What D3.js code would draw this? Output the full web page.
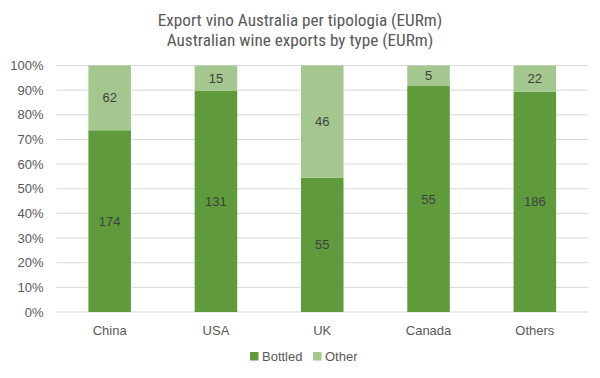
<!DOCTYPE html>
<html><head><meta charset="utf-8">
<script src="https://cdn.jsdelivr.net/npm/d3@7"></script>
<style>
body{margin:0;background:#fff;}
svg text{font-family:"Liberation Sans Narrow","Roboto Condensed","Liberation Sans",sans-serif;}
</style>
</head><body>
<svg id="c" width="600" height="378"></svg>
<script>
const categories = ["China","USA","UK","Canada","Others"];
const bottled = [174,131,55,55,186];
const other = [62,15,46,5,22];
const yTicks = [0,0.1,0.2,0.3,0.4,0.5,0.6,0.7,0.8,0.9,1];
const seriesNames = ["Bottled","Other"];
const titleLines = ["Export vino Australia per tipologia (EURm)","Australian wine exports by type (EURm)"];
const colors = ["#5f9a3d","#a4c78f"];

const svg = d3.select("#c");
const m = {l:56.5, r:12, t:65.5, b:66};
const W = 600, H = 378;
const x = d3.scaleBand().domain(categories).range([m.l, W-m.r]).paddingInner(0.6).paddingOuter(0.3);
const y = d3.scaleLinear().domain([0,1]).range([H-m.b, m.t]);

svg.selectAll(".title").data(titleLines).enter().append("text")
  .attr("x",300).attr("y",(d,i)=>25.5+i*20).attr("text-anchor","middle")
  .attr("font-size",17.2).attr("fill","#595959").text(d=>d);

svg.append("g").selectAll("line").data(yTicks).enter().append("line")
  .attr("x1",m.l).attr("x2",W-m.r).attr("y1",d=>y(d)).attr("y2",d=>y(d))
  .attr("stroke","#d9d9d9").attr("stroke-width",1);

svg.append("g").selectAll("text").data(yTicks).enter().append("text")
  .attr("x",m.l-13).attr("y",d=>y(d)+4.5).attr("text-anchor","end")
  .attr("font-size",13).attr("fill","#595959").style("font-family","'Liberation Sans',sans-serif")
  .text(d=>Math.round(d*100)+"%");

const rows = categories.map((c,i)=>({cat:c, Bottled:bottled[i]/(bottled[i]+other[i]), Other:other[i]/(bottled[i]+other[i]), vals:[bottled[i],other[i]]}));
const stack = d3.stack().keys(seriesNames)(rows);

stack.forEach((s,si)=>{
  const g = svg.append("g");
  g.selectAll("rect").data(s).enter().append("rect")
    .attr("x",d=>x(d.data.cat)).attr("width",x.bandwidth())
    .attr("y",d=>y(d[1])).attr("height",d=>y(d[0])-y(d[1]))
    .attr("fill",colors[si]);
  g.selectAll("text").data(s).enter().append("text")
    .attr("x",d=>x(d.data.cat)+x.bandwidth()/2)
    .attr("y",d=>(y(d[0])+y(d[1]))/2+4.5)
    .attr("text-anchor","middle").attr("font-size",13).attr("fill","#404040")
    .style("font-family","'Liberation Sans',sans-serif")
    .text(d=>d.data.vals[si]);
});

svg.append("g").selectAll("text").data(categories).enter().append("text")
  .attr("x",d=>x(d)+x.bandwidth()/2).attr("y",H-m.b+23)
  .attr("text-anchor","middle").attr("font-size",13).attr("fill","#595959")
  .style("font-family","'Liberation Sans',sans-serif").text(d=>d);

const leg = svg.append("g");
const legX = [250,313];
seriesNames.forEach((n,i)=>{
  leg.append("rect").attr("x",legX[i]).attr("y",352).attr("width",8.5).attr("height",8.5).attr("fill",colors[i]);
  leg.append("text").attr("x",legX[i]+12).attr("y",361).attr("font-size",13).attr("fill","#595959")
    .style("font-family","'Liberation Sans',sans-serif").text(n);
});
</script>
</body></html>
